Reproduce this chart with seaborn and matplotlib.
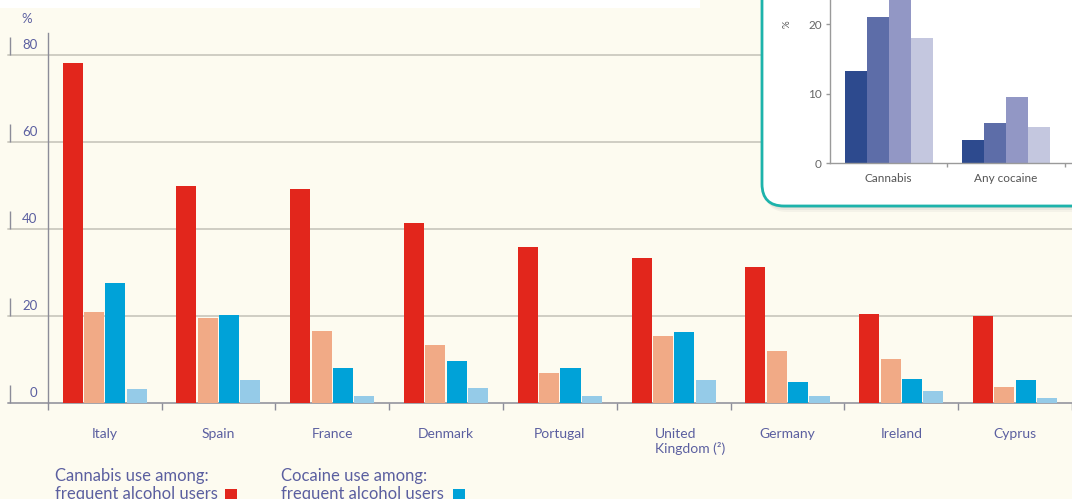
import numpy as np
import pandas as pd
import matplotlib.pyplot as plt
import matplotlib.transforms as mtransforms
from matplotlib.patches import FancyBboxPatch, Rectangle
import seaborn as sns

# --- data ---
countries = ['Italy', 'Spain', 'France', 'Denmark', 'Portugal',
             'United\nKingdom (²)', 'Germany', 'Ireland', 'Cyprus']
series_names = ['Cannabis: frequent alcohol users', 'Cannabis: all adults',
                'Cocaine: frequent alcohol users', 'Cocaine: all adults']
cannabis_freq = [78.2, 50.0, 49.2, 41.4, 35.8, 33.3, 31.3, 20.4, 20.1]
cannabis_all = [21.0, 19.6, 16.6, 13.4, 6.9, 15.4, 12.0, 10.2, 3.6]
cocaine_freq = [27.7, 20.2, 8.0, 9.7, 8.0, 16.3, 4.8, 5.5, 5.2]
cocaine_all = [3.2, 5.2, 1.5, 3.5, 1.5, 5.2, 1.5, 2.7, 1.2]
yticks = [0, 20, 40, 60, 80]

# inset panel (partly cut off in the reference)
inset_cats = ['Cannabis', 'Any cocaine']
inset_groups = ['Group 1', 'Group 2', 'Group 3', 'Group 4']
inset_g1 = [13.3, 3.4]
inset_g2 = [21.1, 5.8]
inset_g3 = [25.0, 9.5]
inset_g4 = [18.0, 5.2]
inset_yticks = [0, 10, 20]

main_colors = ['#e2261c', '#f1aa86', '#00a2d8', '#95cbe8']
inset_colors = ['#2d4a8e', '#5d6da8', '#9297c5', '#c4c7df']
BG = '#fdfbf0'
TXT = '#5b5fa0'

df = pd.DataFrame({
    'country': countries * 4,
    'series': np.repeat(series_names, len(countries)),
    'value': cannabis_freq + cannabis_all + cocaine_freq + cocaine_all,
})
inset_df = pd.DataFrame({
    'substance': inset_cats * 4,
    'group': np.repeat(inset_groups, len(inset_cats)),
    'value': inset_g1 + inset_g2 + inset_g3 + inset_g4,
})

sns.set_theme(style='white')
plt.rcParams['font.family'] = ['Lato', 'DejaVu Sans']

W, H = 1072, 499
fig = plt.figure(figsize=(W / 100, H / 100), dpi=100)
fig.patch.set_facecolor(BG)

# --- main chart ---
ax = fig.add_axes([47.7 / W, 96 / H, 1 - 47.7 / W, (403 - 33.25) / H])
ax.set_facecolor('none')
sns.barplot(data=df, x='country', y='value', hue='series', palette=main_colors,
            width=0.75, gap=0.06, saturation=1, linewidth=0, legend=False, ax=ax)
ax.set_xlim(-0.5, 8.43)
ax.set_ylim(0, 85)
ax.set_xlabel('')
ax.set_ylabel('')
for s in ['top', 'right', 'bottom']:
    ax.spines[s].set_visible(False)
ax.spines['left'].set_color('#8c8c99')
ax.spines['left'].set_linewidth(1)

xl = -(47.7 - 8) / (W - 47.7)
for v in yticks:
    ax.axhline(v, xmin=xl, xmax=1, color='#a3a3aa' if v == 0 else '#cfcdc3',
               lw=1.4, clip_on=False, zorder=0.5)

blend = mtransforms.blended_transform_factory(ax.transAxes, ax.transData)
lab_tr = mtransforms.offset_copy(blend, fig=fig, y=10, units='dots')
xbar = (10 - 47.7) / (W - 47.7)
xlab = (37.5 - 47.7) / (W - 47.7)
ax.set_yticks([])
for v in yticks:
    ax.text(xlab, v, str(v), transform=lab_tr, ha='right', va='center',
            fontsize=9.5, color=TXT)
    ax.vlines(xbar, v, v + 4.2, transform=blend, color='#8c8c99', lw=1,
              clip_on=False)

ax.set_xticks(range(len(countries)))
ax.set_xticklabels(countries, fontsize=10, color=TXT)
ax.set_xticks(np.arange(-0.5, len(countries), 1), minor=True)
ax.tick_params(axis='x', which='major', length=0, pad=18)
ax.tick_params(axis='x', which='minor', length=5, width=1, color='#8c8c99',
               direction='out', bottom=True)
uk = ax.get_xticklabels()[5]
uk.set_multialignment('left')
uk.set_transform(uk.get_transform() + mtransforms.ScaledTranslation(0.16, 0, fig.dpi_scale_trans))

fig.text(27 / W, 1 - 19 / H, '%', ha='center', va='center', fontsize=9.5, color=TXT)

# white band of the panel above
fig.add_artist(Rectangle((0, (H - 8) / 100), 7.0, 0.2, transform=fig.dpi_scale_trans,
                         facecolor='white', edgecolor='none', zorder=2))

# legend (cut off at the bottom, as in the reference)
for x0, l1, sq, col in [(55, 'Cannabis use among:', 225, main_colors[0]),
                        (281, 'Cocaine use among:', 453, main_colors[2])]:
    fig.text(x0 / W, 1 - 468 / H, l1, ha='left', va='top', fontsize=12, color=TXT)
    fig.text(x0 / W, 1 - 486 / H, 'frequent alcohol users', ha='left', va='top',
             fontsize=12, color=TXT)
    fig.add_artist(Rectangle((sq / 100, (H - 501) / 100), 0.12, 0.12,
                             transform=fig.dpi_scale_trans, facecolor=col,
                             edgecolor='none', zorder=2))

# --- inset box ---
for i, a in enumerate([0.06, 0.08, 0.12]):
    off = 0.06 - i * 0.02
    fig.add_artist(FancyBboxPatch((7.62 + off * 0.5, (H - 206) / 100 - off), 4.5, 3.0,
                                  boxstyle='round,pad=0,rounding_size=0.22',
                                  transform=fig.dpi_scale_trans, facecolor='#707070',
                                  edgecolor='none', alpha=a, zorder=2.5))
fig.add_artist(FancyBboxPatch((7.62, (H - 206) / 100), 4.5, 3.0,
                              boxstyle='round,pad=0,rounding_size=0.22',
                              transform=fig.dpi_scale_trans, facecolor='white',
                              edgecolor='#1db3ab', lw=2, zorder=3))

ax2 = fig.add_axes([830 / W, (H - 163.3) / H, 3 * 117.3 / W, 25 * 6.95 / H])
ax2.set_zorder(4)
ax2.set_facecolor('none')
sns.barplot(data=inset_df, x='substance', y='value', hue='group', palette=inset_colors,
            width=0.75, saturation=1, linewidth=0, legend=False, ax=ax2)
ax2.set_xlim(-0.5, 2.5)
ax2.set_ylim(0, 25)
ax2.set_xlabel('')
ax2.set_ylabel('')
for s in ['top', 'right']:
    ax2.spines[s].set_visible(False)
for s in ['left', 'bottom']:
    ax2.spines[s].set_color('#9a9a9a')
    ax2.spines[s].set_linewidth(1)
ax2.set_yticks(inset_yticks)
ax2.set_yticklabels([str(v) for v in inset_yticks])
ax2.tick_params(axis='y', length=3, width=1, color='#9a9a9a', labelsize=8.5,
                labelcolor='#666666', pad=3, left=True)
ax2.set_xticks(range(len(inset_cats)))
ax2.set_xticklabels(inset_cats, fontsize=8.5, color='#555555')
ax2.set_xticks([0.5, 1.5], minor=True)
ax2.tick_params(axis='x', which='major', length=0, pad=7)
ax2.tick_params(axis='x', which='minor', length=3, width=1, color='#9a9a9a', bottom=True)
b2 = mtransforms.blended_transform_factory(ax2.transAxes, ax2.transData)
ax2.text((787 - 830) / (3 * 117.3), 20.0, '%', transform=b2, rotation=90,
         ha='center', va='center', fontsize=7, color='#555555')

fig.savefig('out.png', dpi=100, facecolor=fig.get_facecolor())
